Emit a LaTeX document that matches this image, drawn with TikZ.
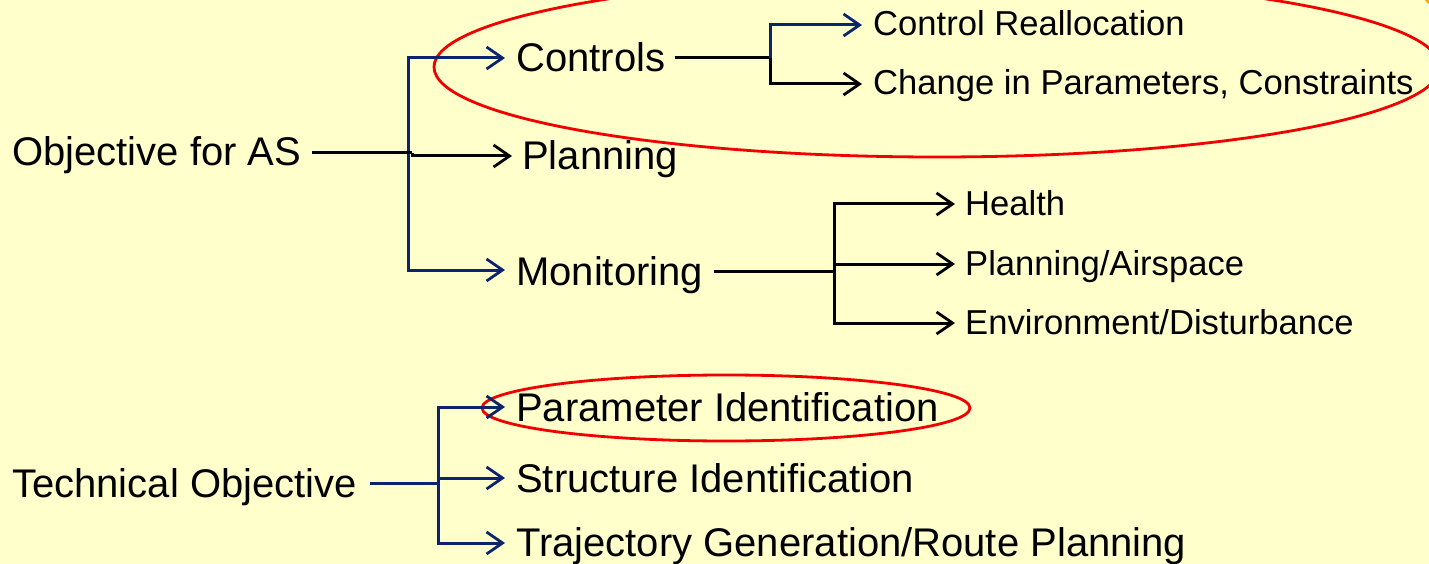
\documentclass[tikz,border=0pt]{standalone}
\usepackage{fontspec}
\setmainfont{Liberation Sans}
\usetikzlibrary{arrows.meta}
\definecolor{bgyellow}{RGB}{255,255,204}
\definecolor{navy}{RGB}{10,36,110}
\definecolor{ovalred}{RGB}{240,0,0}
\definecolor{cornerorange}{RGB}{255,170,0}
\begin{document}
\begin{tikzpicture}[x=1pt,y=-1pt,
  big/.style={font=\fontsize{40}{41}\selectfont, inner sep=0pt, anchor=base west},
  small/.style={font=\fontsize{34.6}{35}\selectfont, inner sep=0pt, anchor=base west},
  conn/.style={line width=3pt, line cap=butt, line join=miter},
  arr/.style={conn, -{Straight Barb[length=16pt,width=22pt,line width=2.8pt]}},
  oval/.style={draw=ovalred, line width=2.8pt}]
\useasboundingbox (0,0) rectangle (1429,564);
\fill[bgyellow] (0,0) rectangle (1429,564);
\begin{scope}
\clip (0,0) rectangle (1429,564);
\fill[cornerorange] (1433,-4) circle (9);
\draw[oval] (937,67) ellipse [x radius=503, y radius=90];
\end{scope}
\draw[oval] (726,408) ellipse [x radius=244, y radius=33];

% nodes
\node[big] (obj) at (12,166) {Objective for AS};
\node[big] (ctrl) at (516,72) {Controls};
\node[big] (plan) at (522,170) {Planning};
\node[big] (mon) at (516,285) {Monitoring};
\node[small] (realloc) at (873,36) {Control Reallocation};
\node[small] (change) at (873,95) {Change in Parameters, Constraints};
\node[small] (health) at (965,215) {Health};
\node[small] (air) at (965,275) {Planning/Airspace};
\node[small] (env) at (965,334) {Environment/Disturbance};
\node[big] (tech) at (12,497) {Technical Objective};
\node[big] (pid) at (516,421) {Parameter Identification};
\node[big] (sid) at (516,492) {Structure Identification};
\node[big] (traj) at (516,556) {Trajectory Generation/Route Planning};

% junction coordinates
\coordinate (objs) at (312,153);
\coordinate (objj) at (412,153);
\coordinate (objk) at (412,156);
\coordinate (plant) at (512,156);
\coordinate (bt) at (408,58);
\coordinate (bb) at (408,270);
\coordinate (ctrlt) at (505,58);
\coordinate (mont) at (505,270);
\coordinate (cs) at (675,58);
\coordinate (cj) at (770,58);
\coordinate (ct) at (770,25);
\coordinate (cb) at (770,84);
\coordinate (realt) at (862,25);
\coordinate (chgt) at (862,84);
\coordinate (ms) at (714,271);
\coordinate (mj) at (834,271);
\coordinate (mt) at (834,204);
\coordinate (mm) at (834,264);
\coordinate (mb) at (834,323);
\coordinate (healtht) at (955,204);
\coordinate (airt) at (955,264);
\coordinate (envt) at (955,323);
\coordinate (ts) at (370,483);
\coordinate (tj) at (438,483);
\coordinate (tt) at (438,407);
\coordinate (tm) at (438,478);
\coordinate (tb) at (438,543);
\coordinate (pidt) at (505,407);
\coordinate (sidt) at (505,478);
\coordinate (trajt) at (505,543);

% Objective for AS tree
\draw[arr, navy] (bb) -- (bt) -- (ctrlt);
\draw[arr, navy] (bt) -- (bb) -- (mont);
\draw[conn] (objs) -- (objj);
\draw[arr] (objj) -- (objk) -- (plant);

% Controls subtree
\draw[conn] (cs) -- (cj);
\draw[arr, navy] (cj) -- (ct) -- (realt);
\draw[arr] (cj) -- (cb) -- (chgt);

% Monitoring subtree
\draw[conn] (ms) -- (mj);
\draw[arr] (mj) -- (mt) -- (healtht);
\draw[arr] (mm) -- (airt);
\draw[arr] (mj) -- (mb) -- (envt);

% Technical objective tree
\draw[conn, navy] (ts) -- (tj);
\draw[arr, navy] (tj) -- (tt) -- (pidt);
\draw[arr, navy] (tm) -- (sidt);
\draw[arr, navy] (tj) -- (tb) -- (trajt);
\end{tikzpicture}
\end{document}
